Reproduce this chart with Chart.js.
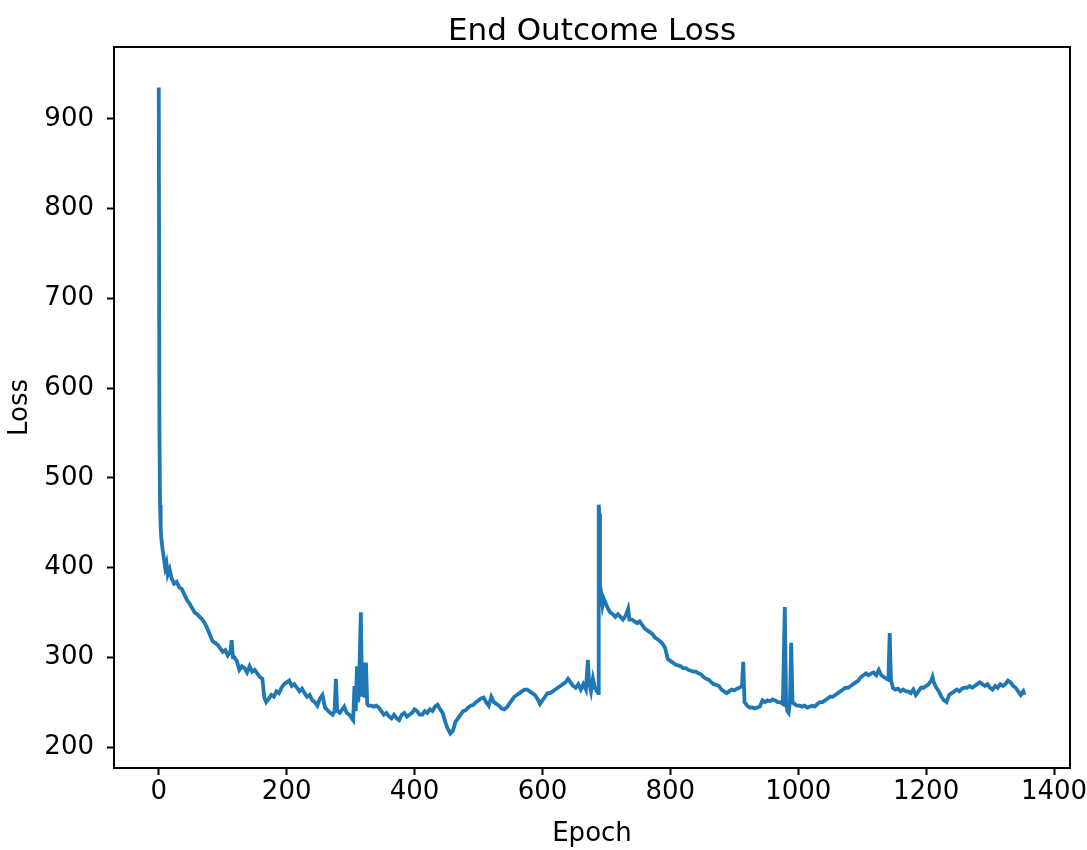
<!DOCTYPE html>
<html>
<head>
<meta charset="utf-8">
<script src="https://cdn.jsdelivr.net/npm/chart.js@4/dist/chart.umd.min.js"></script>
<style>
  html, body { margin: 0; padding: 0; background: #fff; }
  #lossChart { display: block; }
</style>
</head>
<body>
<canvas id="lossChart" width="1087" height="850"></canvas>
<script>
// values (epoch -> loss)
const epochs = [
    0, 1, 2, 3, 4, 6, 8, 10, 12, 14, 17, 20, 24, 28, 32, 36, 40, 44, 48, 52,
    56, 60, 64, 68, 72, 76, 80, 84, 88, 92, 96, 100, 104, 108, 112, 114, 116, 118, 122, 126,
    130, 134, 138, 142, 146, 150, 154, 158, 162, 165, 168, 172, 176, 180, 184, 188, 192, 196, 200, 204,
    208, 212, 216, 220, 224, 228, 232, 236, 240, 244, 248, 252, 256, 260, 264, 268, 272, 275, 277, 279,
    283, 287, 290, 294, 298, 302, 304, 306, 308, 310, 312, 314, 316, 318, 320, 322, 324, 326, 328, 332,
    336, 340, 344, 348, 352, 356, 360, 364, 368, 372, 376, 380, 384, 388, 392, 396, 400, 404, 408, 412,
    416, 420, 424, 428, 432, 436, 440, 444, 448, 452, 456, 460, 464, 468, 472, 476, 480, 484, 488, 492,
    496, 500, 504, 508, 512, 516, 520, 524, 528, 532, 536, 540, 544, 548, 552, 556, 560, 564, 568, 572,
    576, 580, 584, 588, 592, 596, 600, 604, 608, 612, 616, 620, 624, 628, 632, 636, 640, 644, 648, 652,
    656, 660, 664, 668, 671, 673, 676, 679, 682, 685, 687, 688, 689, 690, 692, 694, 696, 699, 702, 706,
    710, 714, 718, 722, 726, 730, 734, 736, 740, 744, 748, 752, 756, 760, 764, 768, 772, 776, 780, 784,
    788, 792, 796, 800, 804, 808, 812, 816, 820, 824, 828, 832, 836, 840, 844, 848, 852, 856, 860, 864,
    868, 872, 876, 880, 884, 888, 892, 896, 900, 904, 908, 912, 914, 916, 920, 924, 928, 932, 936, 940,
    944, 948, 952, 956, 960, 964, 968, 972, 976, 979, 981, 983, 985, 987, 989, 991, 994, 998, 1002, 1006,
    1010, 1014, 1018, 1022, 1026, 1030, 1034, 1038, 1042, 1046, 1050, 1054, 1058, 1062, 1066, 1070, 1074, 1078, 1082, 1086,
    1090, 1094, 1098, 1102, 1106, 1110, 1114, 1118, 1122, 1126, 1130, 1134, 1138, 1141, 1143, 1145, 1148, 1152, 1156, 1160,
    1164, 1168, 1172, 1176, 1180, 1184, 1188, 1192, 1196, 1200, 1204, 1208, 1210, 1212, 1216, 1220, 1224, 1228, 1232, 1236,
    1240, 1244, 1248, 1252, 1256, 1260, 1264, 1268, 1272, 1276, 1280, 1284, 1288, 1292, 1296, 1300, 1304, 1308, 1312, 1316,
    1320, 1324, 1328, 1332, 1336, 1340, 1344, 1348, 1352, 1354
];
const lossValues = [
    935, 560, 470, 445, 432, 420, 410, 400, 405, 392, 398, 388, 382, 384, 378, 376, 370, 364, 360, 355,
    350, 348, 345, 342, 338, 332, 325, 318, 316, 314, 310, 306, 308, 302, 306, 319, 300, 300, 296, 286,
    290, 288, 283, 290, 284, 286, 282, 278, 276, 255, 250, 254, 258, 256, 262, 260, 266, 270, 272, 274,
    268, 270, 266, 262, 265, 260, 256, 258, 252, 250, 246, 254, 258, 244, 241, 238, 236, 240, 276, 240,
    238, 242, 245, 238, 236, 232, 230, 268, 240, 290, 250, 292, 350, 256, 294, 255, 294, 248, 246, 246,
    245, 246, 244, 240, 236, 238, 234, 232, 236, 232, 230, 236, 238, 234, 236, 238, 242, 240, 236, 236,
    240, 238, 242, 240, 245, 247, 242, 238, 228, 220, 215, 218, 228, 232, 236, 240, 241, 244, 246, 247,
    250, 252, 254, 255, 250, 246, 256, 250, 248, 246, 243, 242, 244, 248, 252, 256, 258, 260, 262, 264,
    264, 262, 260, 258, 254, 248, 252, 256, 260, 260, 262, 264, 266, 268, 270, 272, 276, 272, 268, 266,
    270, 264, 270, 264, 297, 272, 262, 276, 266, 262, 260, 470, 460, 380, 372, 358, 365, 360, 355, 350,
    348, 345, 348, 345, 342, 346, 354, 342, 342, 340, 338, 340, 336, 332, 330, 328, 326, 322, 320, 318,
    315, 310, 298, 296, 294, 292, 291, 290, 288, 288, 286, 285, 284, 284, 282, 281, 278, 276, 275, 272,
    270, 269, 268, 264, 262, 260, 262, 264, 263, 265, 266, 268, 295, 250, 246, 244, 244, 243, 244, 245,
    252, 250, 252, 251, 253, 252, 250, 250, 248, 356, 250, 240, 238, 250, 316, 250, 248, 246, 246, 245,
    246, 244, 245, 246, 245, 248, 250, 250, 252, 254, 256, 256, 258, 260, 262, 264, 266, 266, 268, 270,
    272, 274, 278, 280, 282, 280, 282, 283, 280, 286, 280, 278, 276, 275, 327, 275, 266, 264, 265, 262,
    264, 262, 262, 260, 264, 258, 262, 266, 266, 268, 270, 274, 278, 272, 266, 262, 256, 252, 250, 258,
    260, 262, 264, 262, 265, 266, 266, 268, 266, 268, 270, 272, 270, 268, 270, 266, 264, 268, 266, 270,
    268, 270, 274, 272, 268, 266, 262, 258, 262, 258
];
const xTickValues = [0, 200, 400, 600, 800, 1000, 1200, 1400];
const yTickValues = [200, 300, 400, 500, 600, 700, 800, 900];

const textColor = '#000000';
const fontFamily = "'DejaVu Sans', sans-serif";

// matplotlib-style closed frame around the plot area
const framePlugin = {
    id: 'frame',
    afterDraw(chart) {
        const a = chart.chartArea;
        const ctx = chart.ctx;
        ctx.save();
        ctx.strokeStyle = '#000';
        ctx.lineWidth = 2;
        ctx.strokeRect(a.left, a.top, a.right - a.left, a.bottom - a.top);
        ctx.restore();
    }
};

const ctx = document.getElementById('lossChart').getContext('2d');
new Chart(ctx, {
    type: 'line',
    data: {
        datasets: [{
            label: 'Loss',
            data: epochs.map((e, i) => ({ x: e, y: lossValues[i] })),
            borderColor: '#1f77b4',
            borderWidth: 3.8,
            pointRadius: 0,
            tension: 0,
            fill: false
        }]
    },
    options: {
        responsive: false,
        animation: false,
        layout: {
            padding: { left: 0, right: 17, top: 0, bottom: 0 }
        },
        scales: {
            x: {
                type: 'linear',
                min: -70,
                max: 1425,
                afterBuildTicks: function (scale) {
                    scale.ticks = xTickValues.map(v => ({ value: v }));
                },
                afterFit: function (scale) {
                    scale.height = 82;
                    scale.paddingLeft = 0;
                    scale.paddingRight = 0;
                },
                grid: {
                    drawOnChartArea: false,
                    drawTicks: true,
                    tickLength: 7,
                    tickWidth: 2,
                    tickColor: '#000'
                },
                border: { display: true, color: '#000', width: 2 },
                ticks: {
                    color: textColor,
                    padding: 2,
                    maxRotation: 0,
                    autoSkip: false,
                    callback: v => String(v),
                    font: { family: fontFamily, size: 26 }
                },
                title: {
                    display: true,
                    text: 'Epoch',
                    color: textColor,
                    padding: { top: 0, bottom: 0 },
                    font: { family: fontFamily, size: 26 }
                }
            },
            y: {
                type: 'linear',
                min: 176.6,
                max: 980,
                afterBuildTicks: function (scale) {
                    scale.ticks = yTickValues.map(v => ({ value: v }));
                },
                afterFit: function (scale) {
                    scale.width = 114;
                },
                grid: {
                    drawOnChartArea: false,
                    drawTicks: true,
                    tickLength: 7,
                    tickWidth: 2,
                    tickColor: '#000'
                },
                border: { display: true, color: '#000', width: 2 },
                ticks: {
                    color: textColor,
                    padding: 13,
                    autoSkip: false,
                    callback: v => String(v),
                    font: { family: fontFamily, size: 26 }
                },
                title: {
                    display: true,
                    text: 'Loss',
                    color: textColor,
                    padding: { top: 5, bottom: 0 },
                    font: { family: fontFamily, size: 26 }
                }
            }
        },
        plugins: {
            legend: { display: false },
            tooltip: { enabled: false },
            title: {
                display: true,
                fullSize: false,
                text: 'End Outcome Loss',
                color: textColor,
                padding: { top: 16, bottom: 0 },
                font: { family: fontFamily, size: 31, weight: 'normal', lineHeight: 1 }
            }
        }
    },
    plugins: [framePlugin]
});
</script>
</body>
</html>
